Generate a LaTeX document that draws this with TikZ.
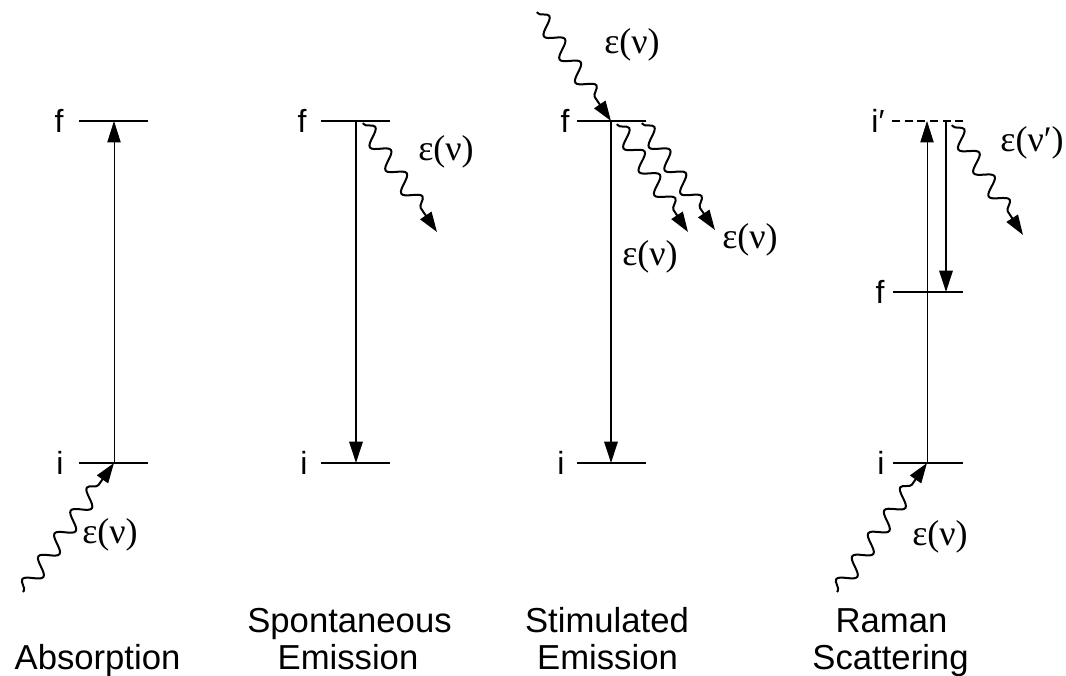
\documentclass[tikz,border=0pt]{standalone}
\usepackage{fontspec}
\setmainfont{Liberation Sans}
\newfontfamily\greekfont{Liberation Serif}
\usetikzlibrary{arrows.meta,decorations.pathmorphing}
\begin{document}
\begin{tikzpicture}[x=0.75pt,y=-0.75pt,
  level/.style={line width=1.9pt},
  dashlevel/.style={line width=1.6pt,dash pattern=on 6pt off 3.5pt},
  thinarr/.style={line width=0.6pt,-{Triangle[length=16pt,width=10pt]}},
  thickarr/.style={line width=1.5pt,-{Triangle[length=16pt,width=10pt]}},
  photon/.style={line width=1.5pt,-{Triangle[length=15pt,width=10pt]},decorate,
    decoration={snake,amplitude=6pt,segment length=21pt,post length=14pt,pre length=1pt}},
  lvl/.style={font=\fontsize{24}{28}\selectfont,inner sep=0pt},
  eps/.style={font=\fontsize{27}{31}\selectfont\greekfont,inner sep=0pt},
  captext/.style={font=\fontsize{26}{30}\selectfont,inner sep=0pt,anchor=base}]
\useasboundingbox (0,0) rectangle (1066,675);

% ---------- Absorption ----------
\coordinate (aFl) at (79,121); \coordinate (aFr) at (148,121);
\coordinate (aIl) at (79,463); \coordinate (aIr) at (148,463);
\coordinate (aF) at (114,121); \coordinate (aI) at (114,463);
\coordinate (aPh) at (23,592);
\draw[level] (aFl) -- (aFr);
\draw[level] (aIl) -- (aIr);
\draw[thinarr] (aI) -- (aF);
\draw[photon] (aPh) -- (aI);
\node[lvl] (aFlab) at (59,121) {f};
\node[lvl] (aIlab) at (60,463) {i};
\node[eps] (aEps) at (110,535) {ε(ν)};
\node[captext] (aCap) at (97.5,669) {Absorption};

% ---------- Spontaneous Emission ----------
\coordinate (sFl) at (321,121); \coordinate (sFr) at (390,121);
\coordinate (sIl) at (321,463); \coordinate (sIr) at (390,463);
\coordinate (sF) at (356,121); \coordinate (sI) at (356,463);
\coordinate (sPs) at (363,123); \coordinate (sPe) at (437,232);
\draw[level] (sFl) -- (sFr);
\draw[level] (sIl) -- (sIr);
\draw[thickarr] (sF) -- (sI);
\draw[photon] (sPs) -- (sPe);
\node[lvl] (sFlab) at (302,121) {f};
\node[lvl] (sIlab) at (304,463) {i};
\node[eps] (sEps) at (446,152) {ε(ν)};
\node[captext] (sCap1) at (349.5,632) {Spontaneous};
\node[captext] (sCap2) at (348,669) {Emission};

% ---------- Stimulated Emission ----------
\coordinate (tFl) at (577,121); \coordinate (tFr) at (646,121);
\coordinate (tIl) at (577,463); \coordinate (tIr) at (646,463);
\coordinate (tF) at (611,121); \coordinate (tI) at (611,463);
\coordinate (tPin) at (537,12);
\coordinate (tP1s) at (617,124); \coordinate (tP1e) at (688,232);
\coordinate (tP2s) at (642,123); \coordinate (tP2e) at (715,230);
\draw[level] (tFl) -- (tFr);
\draw[level] (tIl) -- (tIr);
\draw[thickarr] (tF) -- (tI);
\draw[photon] (tPin) -- (tF);
\draw[photon] (tP1s) -- (tP1e);
\draw[photon] (tP2s) -- (tP2e);
\node[lvl] (tFlab) at (565,121) {f};
\node[lvl] (tIlab) at (561,463) {i};
\node[eps] (tEps1) at (632,45) {ε(ν)};
\node[eps] (tEps2) at (750,240) {ε(ν)};
\node[eps] (tEps3) at (650,257) {ε(ν)};
\node[captext] (tCap1) at (607,632) {Stimulated};
\node[captext] (tCap2) at (607.5,669) {Emission};

% ---------- Raman Scattering ----------
\coordinate (rVl) at (892,121); \coordinate (rVr) at (967,121);
\coordinate (rFl) at (893,292); \coordinate (rFr) at (963,292);
\coordinate (rIl) at (893,463); \coordinate (rIr) at (963,463);
\coordinate (rUpS) at (927,463); \coordinate (rUpE) at (927,121);
\coordinate (rDnS) at (946,121); \coordinate (rDnE) at (946,292);
\coordinate (rPos) at (952,125); \coordinate (rPoe) at (1023,235);
\coordinate (rPin) at (837,592);
\draw[dashlevel] (rVl) -- (rVr);
\draw[level] (rFl) -- (rFr);
\draw[level] (rIl) -- (rIr);
\draw[thinarr] (rUpS) -- (rUpE);
\draw[thickarr] (rDnS) -- (rDnE);
\draw[photon] (rPos) -- (rPoe);
\draw[photon] (rPin) -- (rUpS);
\node[lvl] (rVlab) at (878,121) {i′};
\node[lvl] (rFlab) at (880,292) {f};
\node[lvl] (rIlab) at (881,463) {i};
\node[eps] (rEps1) at (1032,143) {ε(ν′)};
\node[eps] (rEps2) at (940,537) {ε(ν)};
\node[captext] (rCap1) at (891.5,632) {Raman};
\node[captext] (rCap2) at (890.5,669) {Scattering};
\end{tikzpicture}
\end{document}
